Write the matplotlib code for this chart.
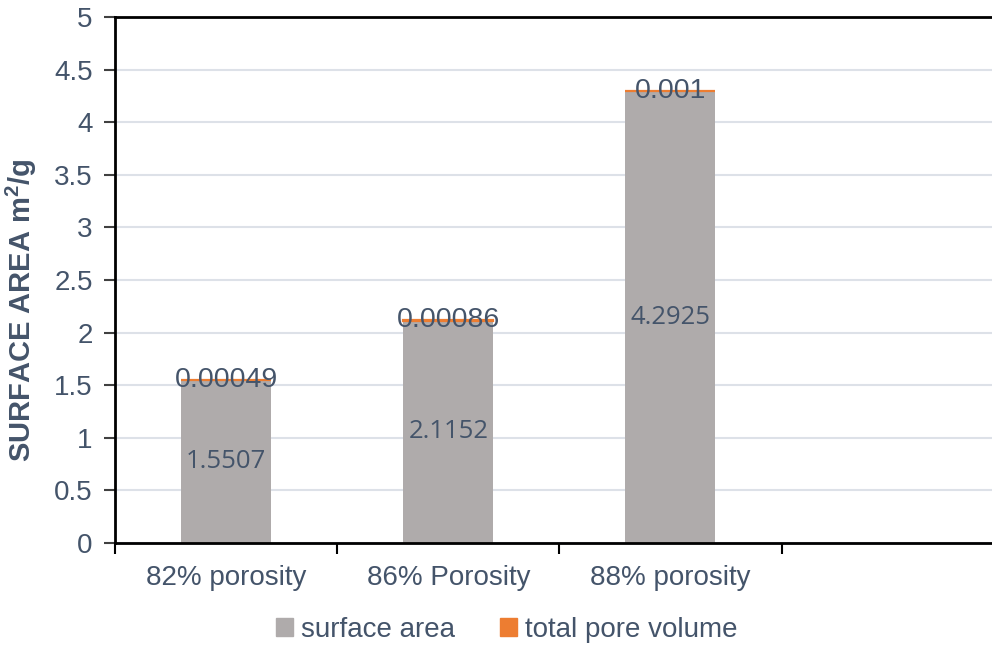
import numpy as np
import matplotlib
matplotlib.use("Agg")
import matplotlib.pyplot as plt
from matplotlib.patches import Patch

# datos
categories = ['82% porosity', '86% Porosity', '88% porosity', '']
surface_area = [1.5507, 2.1152, 4.2925]
pore_volume = [0.00049, 0.00086, 0.001]

GRAY = '#AFABAB'
ORANGE = '#ED7D31'
TEXT = '#44546A'

plt.rcParams['font.family'] = ['Liberation Sans', 'DejaVu Sans']

fig = plt.figure(figsize=(9.92, 6.45), dpi=100)
ax = fig.add_axes([0.1159, 0.1581, 0.896, 0.8155])

x = np.arange(len(surface_area))
w = 0.405

b1 = ax.bar(x, surface_area, w, color=GRAY, zorder=2)
b2 = ax.bar(x, pore_volume, w, bottom=surface_area, color=ORANGE,
            edgecolor=ORANGE, linewidth=1.6, zorder=3)

# etiquetas de valores
for xi, s, p in zip(x, surface_area, pore_volume):
    ax.text(xi, s / 2, f'{s:g}', ha='center', va='center', color=TEXT,
            fontsize=18.5, family='Open Sans', zorder=4)
    ax.text(xi, s + p / 2, f'{p:g}' if p >= 0.001 else f'{p:.5f}',
            ha='center', va='center', color=TEXT, fontsize=20.5, zorder=4)

# ejes
ax.set_ylim(0, 5)
ax.set_xlim(-0.5, len(categories) - 0.5)
ax.set_yticks(np.arange(0, 5.01, 0.5))
ax.set_yticklabels(['0', '0.5', '1', '1.5', '2', '2.5', '3', '3.5', '4', '4.5', '5'])
ax.yaxis.grid(True, color='#DDE1E8', linewidth=1.5, zorder=0)
ax.set_axisbelow(True)

ax.set_xticks(np.arange(len(categories)))
ax.set_xticklabels(categories)
ax.set_xticks(np.arange(-0.5, len(categories), 1.0), minor=True)
ax.tick_params(axis='x', which='major', length=0, pad=16, labelsize=20, labelcolor=TEXT)
ax.tick_params(axis='x', which='minor', length=8, width=1.5, direction='out', color='black')
ax.tick_params(axis='y', length=8, width=1.5, color='#404040', pad=8,
               labelsize=20, labelcolor=TEXT)

for side in ['left', 'bottom', 'top']:
    ax.spines[side].set_color('black')
    ax.spines[side].set_linewidth(2)
ax.spines['right'].set_visible(False)

ax.set_ylabel('SURFACE AREA m$\\mathregular{^2}$/g', fontsize=21, fontweight='bold', color=TEXT)
ax.yaxis.set_label_coords(-0.086, 0.443)

handles = [Patch(color=GRAY, label='surface area'),
           Patch(color=ORANGE, label='total pore volume')]
fig.legend(handles=handles, loc='center', bbox_to_anchor=(0.511, 0.024), ncol=2,
           frameon=False, fontsize=20, labelcolor=TEXT, handlelength=0.6,
           handleheight=0.6, handletextpad=0.3, columnspacing=1.6)

plt.savefig('out.png', dpi=100)
